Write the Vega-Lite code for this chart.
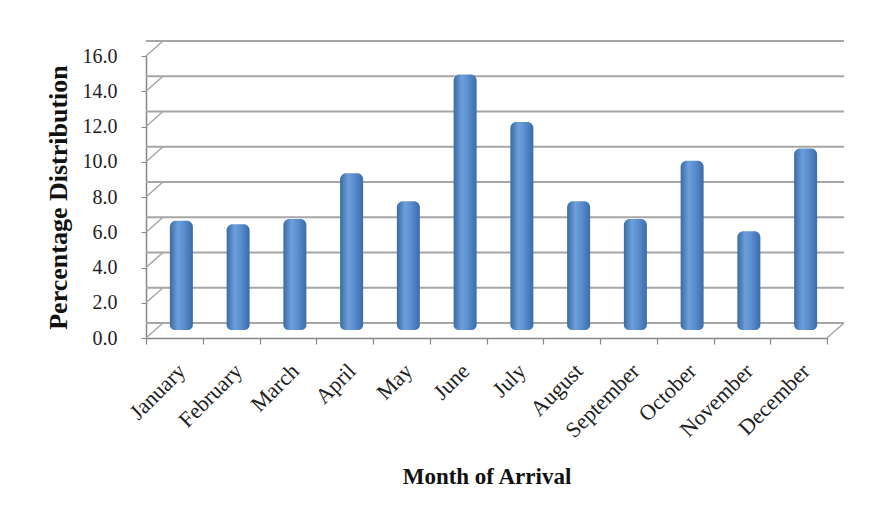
{
  "$schema": "https://vega.github.io/schema/vega-lite/v6.json",
  "width": 681,
  "height": 282,
  "autosize": {"type": "none"},
  "padding": {"left": 146, "top": 56, "right": 50, "bottom": 169},
  "background": "white",
  "resolve": {"scale": {"y": "independent"}, "axis": {"y": "independent"}},
  "config": {
    "view": {"stroke": null},
    "font": "Liberation Serif",
    "axisY": {
      "titleFont": "Liberation Serif",
      "titleFontSize": 26,
      "titleFontWeight": "bold",
      "titleColor": "#111111",
      "titlePadding": 11,
      "values": [0, 2, 4, 6, 8, 10, 12, 14, 16],
      "format": ".1f",
      "labelOverlap": false,
      "labelFont": "Liberation Serif",
      "labelFontSize": 20,
      "labelColor": "#222222",
      "labelPadding": 24,
      "tickSize": 5,
      "tickColor": "#868686",
      "domainColor": "#868686",
      "domainWidth": 1.5,
      "grid": false
    },
    "axisX": {
      "titleFont": "Liberation Serif",
      "titleFontSize": 23,
      "titleFontWeight": "bold",
      "titleColor": "#111111",
      "titlePadding": 24,
      "labelAngle": -45,
      "labelFont": "Liberation Serif",
      "labelFontSize": 22,
      "labelColor": "#222222",
      "labelPadding": 16,
      "labelOverlap": false,
      "tickBand": "extent",
      "tickSize": 6,
      "tickColor": "#868686",
      "tickWidth": 1.2,
      "domainColor": "#868686",
      "domainWidth": 1.5,
      "grid": false
    }
  },
  "datasets": {
    "months": [
      {"month": "January", "pct": 6.2},
      {"month": "February", "pct": 6.0},
      {"month": "March", "pct": 6.3},
      {"month": "April", "pct": 8.9},
      {"month": "May", "pct": 7.3},
      {"month": "June", "pct": 14.5},
      {"month": "July", "pct": 11.8},
      {"month": "August", "pct": 7.3},
      {"month": "September", "pct": 6.3},
      {"month": "October", "pct": 9.6},
      {"month": "November", "pct": 5.6},
      {"month": "December", "pct": 10.3}
    ],
    "grid": [
      {"v": 0}, {"v": 2}, {"v": 4}, {"v": 6}, {"v": 8},
      {"v": 10}, {"v": 12}, {"v": 14}, {"v": 16}
    ],
    "corner": [{"v": 0}]
  },
  "layer": [
    {
      "data": {"name": "grid"},
      "mark": {"type": "rule", "color": "#a6a6a6", "strokeWidth": 2, "xOffset": 17, "x2Offset": 17, "yOffset": -15, "y2Offset": -15},
      "encoding": {
        "y": {"field": "v", "type": "quantitative", "scale": {"domain": [0, 16]}, "title": "Percentage Distribution"}
      }
    },
    {
      "data": {"name": "grid"},
      "mark": {"type": "rule", "color": "#a6a6a6", "strokeWidth": 1.5, "x2Offset": -11.4, "y2Offset": -15},
      "encoding": {
        "x": {"datum": "January", "bandPosition": 0, "type": "nominal", "title": "Month of Arrival"},
        "x2": {"datum": "January"},
        "y": {"field": "v", "type": "quantitative", "scale": {"domain": [0, 16]}, "axis": null},
        "y2": {"field": "v"}
      }
    },
    {
      "data": {"name": "corner"},
      "mark": {"type": "rule", "color": "#a6a6a6", "strokeWidth": 1.5, "x2Offset": 45.4, "y2Offset": -15},
      "encoding": {
        "x": {"datum": "December", "bandPosition": 1, "type": "nominal", "title": "Month of Arrival"},
        "x2": {"datum": "December"},
        "y": {"field": "v", "type": "quantitative", "scale": {"domain": [0, 16]}, "axis": null},
        "y2": {"field": "v"}
      }
    },
    {
      "data": {"name": "months"},
      "mark": {
        "type": "bar",
        "width": 23,
        "xOffset": 7,
        "cornerRadiusTopLeft": 6,
        "cornerRadiusTopRight": 6,
        "cornerRadiusBottomLeft": 5,
        "cornerRadiusBottomRight": 5,
        "color": {
          "gradient": "linear",
          "x1": 0, "x2": 1, "y1": 0, "y2": 0,
          "stops": [
            {"offset": 0, "color": "#3a6aa6"},
            {"offset": 0.35, "color": "#6d9fdb"},
            {"offset": 0.6, "color": "#5b8fcf"},
            {"offset": 1, "color": "#3b6cab"}
          ]
        }
      },
      "encoding": {
        "x": {
          "field": "month",
          "type": "nominal",
          "sort": null,
          "title": "Month of Arrival",
          "scale": {
            "domain": ["January", "February", "March", "April", "May", "June", "July", "August", "September", "October", "November", "December"],
            "paddingInner": 0,
            "paddingOuter": 0
          }
        },
        "y": {"field": "pct", "type": "quantitative", "scale": {"domain": [-0.454, 15.546], "zero": false, "nice": false}, "axis": null},
        "y2": {"datum": 0}
      }
    }
  ]
}
